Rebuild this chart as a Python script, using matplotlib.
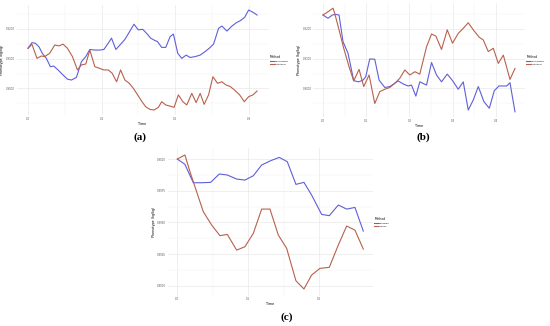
import numpy as np
import matplotlib
matplotlib.use("Agg")
import matplotlib.pyplot as plt

# panel (a)
a_time_mech = [0, 0.0055, 0.0100, 0.0150, 0.0195, 0.0250, 0.0305, 0.0350, 0.0409, 0.0477, 0.0536, 0.0591,
               0.0659, 0.0727, 0.0786, 0.0841, 0.0909, 0.0977, 0.1032, 0.1091, 0.1136, 0.1195, 0.1250, 0.1318,
               0.1386, 0.1441, 0.1500, 0.1559, 0.1614, 0.1668, 0.1727, 0.1759, 0.1818, 0.1873, 0.1932, 0.1977,
               0.2036, 0.2091, 0.2150, 0.2205, 0.2273, 0.2341, 0.2409, 0.2464, 0.2523, 0.2591, 0.2636, 0.2705,
               0.2773, 0.2832, 0.2886, 0.2945, 0.3000, 0.3068, 0.3114]
a_mech = [0.9135, 0.9154, 0.9152, 0.9140, 0.9118, 0.9101, 0.9073, 0.9075, 0.9062, 0.9045, 0.9031, 0.9028,
          0.9037, 0.9090, 0.9107, 0.9131, 0.9129, 0.9129, 0.9131, 0.9152, 0.9169, 0.9131, 0.9146, 0.9165,
          0.9193, 0.9216, 0.9197, 0.9199, 0.9185, 0.9169, 0.9161, 0.9158, 0.9138, 0.9138, 0.9174, 0.9183,
          0.9118, 0.9101, 0.9112, 0.9104, 0.9107, 0.9112, 0.9124, 0.9135, 0.9149, 0.9202, 0.9210, 0.9193,
          0.9210, 0.9221, 0.9228, 0.9239, 0.9264, 0.9255, 0.9247]
a_time_stat = [0, 0.0055, 0.0082, 0.0123, 0.0182, 0.0227, 0.0295, 0.0364, 0.0423, 0.0477, 0.0536, 0.0605,
               0.0673, 0.0727, 0.0786, 0.0841, 0.0909, 0.0977, 0.1032, 0.1091, 0.1145, 0.1205, 0.1259, 0.1318,
               0.1377, 0.1432, 0.1491, 0.1545, 0.1600, 0.1659, 0.1714, 0.1773, 0.1818, 0.1873, 0.1932, 0.1986,
               0.2045, 0.2105, 0.2159, 0.2227, 0.2286, 0.2341, 0.2395, 0.2455, 0.2514, 0.2577, 0.2636, 0.2695,
               0.2750, 0.2809, 0.2877, 0.2941, 0.3000, 0.3059, 0.3114]
a_stat = [0.9135, 0.9148, 0.9129, 0.9101, 0.9109, 0.9107, 0.9118, 0.9146, 0.9143, 0.9149, 0.9135, 0.9107,
          0.9062, 0.9079, 0.9082, 0.9129, 0.9073, 0.9067, 0.9062, 0.9062, 0.9051, 0.9022, 0.9062, 0.9028,
          0.9017, 0.9000, 0.8978, 0.8957, 0.8938, 0.8929, 0.8927, 0.8936, 0.8955, 0.8944, 0.8940, 0.8936,
          0.8978, 0.8955, 0.8944, 0.8983, 0.8952, 0.8983, 0.8946, 0.8978, 0.9039, 0.9017, 0.9022, 0.9011,
          0.9006, 0.8994, 0.8978, 0.8955, 0.8972, 0.8978, 0.8991]

# panel (b)
b_time_mech = [0, 0.0116, 0.0216, 0.0293, 0.0371, 0.0463, 0.0579, 0.0710, 0.0826, 0.0927, 0.0988, 0.1081,
               0.1197, 0.1297, 0.1429, 0.1544, 0.1660, 0.1737, 0.1853, 0.1969, 0.2046, 0.2147, 0.2239, 0.2394,
               0.2510, 0.2625, 0.2741, 0.2873, 0.2996, 0.3127, 0.3243, 0.3359, 0.3475, 0.3591, 0.3722, 0.3846,
               0.3961, 0.4069, 0.4170, 0.4247, 0.4324, 0.4440]
b_mech = [0.9247, 0.9236, 0.9247, 0.9249, 0.9247, 0.9157, 0.9118, 0.9026, 0.9022, 0.9028, 0.9039, 0.9099,
          0.9098, 0.9028, 0.9003, 0.9006, 0.9017, 0.9025, 0.9015, 0.9008, 0.9011, 0.8974, 0.9022, 0.9011,
          0.9087, 0.9045, 0.9022, 0.9048, 0.9026, 0.8997, 0.9022, 0.8927, 0.8961, 0.9006, 0.8955, 0.8933,
          0.8992, 0.9008, 0.9008, 0.9008, 0.9019, 0.8921]
b_time_stat = [0, 0.0116, 0.0232, 0.0270, 0.0371, 0.0479, 0.0602, 0.0710, 0.0834, 0.0942, 0.1066, 0.1197,
               0.1313, 0.1429, 0.1544, 0.1660, 0.1776, 0.1892, 0.2008, 0.2124, 0.2239, 0.2394, 0.2510, 0.2610,
               0.2741, 0.2873, 0.2996, 0.3127, 0.3243, 0.3359, 0.3475, 0.3614, 0.3707, 0.3822, 0.3938, 0.4054,
               0.4170, 0.4324, 0.4440]
b_stat = [0.9247, 0.9258, 0.9270, 0.9253, 0.9197, 0.9135, 0.9073, 0.9025, 0.9064, 0.9006, 0.9045, 0.8949,
          0.8989, 0.8997, 0.9003, 0.9017, 0.9034, 0.9062, 0.9045, 0.9056, 0.9048, 0.9140, 0.9183, 0.9176,
          0.9131, 0.9197, 0.9152, 0.9185, 0.9202, 0.9221, 0.9197, 0.9172, 0.9163, 0.9124, 0.9135, 0.9084,
          0.9112, 0.9030, 0.9067]

# panel (c)
c_time_bay = [0, 0.0108, 0.0226, 0.0344, 0.0471, 0.0593, 0.0706, 0.0838, 0.0955, 0.1073, 0.1191, 0.1318,
              0.1440, 0.1553, 0.1675, 0.1788, 0.1896, 0.2038, 0.2146, 0.2273, 0.2391, 0.2508, 0.2626]
c_bay = [0.90000, 0.89958, 0.89813, 0.89813, 0.89816, 0.89882, 0.89874, 0.89842, 0.89834, 0.89868, 0.89953,
         0.89987, 0.90013, 0.89979, 0.89800, 0.89816, 0.89716, 0.89563, 0.89553, 0.89637, 0.89605, 0.89618,
         0.89431]
c_time_greedy = [0, 0.0108, 0.0179, 0.0249, 0.0367, 0.0485, 0.0602, 0.0706, 0.0838, 0.0955, 0.1073, 0.1191,
                 0.1308, 0.1426, 0.1544, 0.1675, 0.1788, 0.1896, 0.2014, 0.2146, 0.2273, 0.2391, 0.2508, 0.2626]
c_greedy = [0.90000, 0.90032, 0.89900, 0.89782, 0.89584, 0.89479, 0.89395, 0.89405, 0.89281, 0.89308, 0.89413,
            0.89605, 0.89605, 0.89400, 0.89295, 0.89039, 0.88974, 0.89084, 0.89137, 0.89145, 0.89321, 0.89471,
            0.89439, 0.89289]

blue = "#5f5fd8"
red = "#b8614c"

W, H = 550, 326
fig = plt.figure(figsize=(W / 100, H / 100), dpi=100)


def box(left, top, right, bottom):
    return [left / W, 1 - bottom / H, (right - left) / W, (bottom - top) / H]


def panel(rect, series, xticks, yticks, yfmt, leg_x, tag, tag_xy):
    ax = fig.add_axes(rect)
    for t, v, col, name in series:
        ax.plot(t, v, color=col, lw=0.8, label=name)
    ax.set_xticks(xticks)
    ax.set_xticklabels(["%.1f" % x for x in xticks])
    ax.set_yticks(yticks)
    ax.set_yticklabels([yfmt % y for y in yticks])
    dx = (xticks[1] - xticks[0]) / 2
    dy = (yticks[1] - yticks[0]) / 2
    ax.set_xticks(np.array(xticks[:-1]) + dx, minor=True)
    ax.set_yticks(list(np.array(yticks) + dy) + [yticks[0] - dy], minor=True)
    ax.margins(0.05)
    ax.grid(True, which="major", color="#e6e6e6", lw=0.45)
    ax.grid(True, which="minor", color="#f0f0f0", lw=0.3)
    ax.set_axisbelow(True)
    for s in ax.spines.values():
        s.set_visible(False)
    ax.tick_params(which="both", length=0, labelsize=1.9, labelcolor="#555555", pad=1.2)
    ax.set_xlabel("Time", fontsize=2.4, labelpad=0.8)
    ax.set_ylabel("Phenotype (kg/kg)", fontsize=2.4, labelpad=1.0)
    leg = ax.legend(title="Method", loc="center left", bbox_to_anchor=(leg_x, 0.5), fontsize=1.7,
                    title_fontsize=2.2, frameon=False, handlelength=1.6, handletextpad=0.5,
                    labelspacing=0.5, borderaxespad=0.3)
    leg._legend_box.align = "left"
    fig.text(tag_xy[0] / W, 1 - tag_xy[1] / H, tag, fontsize=8, fontweight="bold",
             family="Liberation Serif", ha="center", va="center")
    return ax


panel(box(16.5, 5, 268.5, 115),
      [(a_time_mech, a_mech, blue, "Mechanistic"), (a_time_stat, a_stat, red, "Statistical")],
      [0.0, 0.1, 0.2, 0.3], [0.900, 0.910, 0.920], "%.4f", 1.0, "(a)", (140, 137))

panel(box(313.4, 3, 524.6, 117),
      [(b_time_mech, b_mech, blue, "Mechanistic"), (b_time_stat, b_stat, red, "Statistical")],
      [0.0, 0.1, 0.2, 0.3, 0.4], [0.900, 0.910, 0.920], "%.4f", 1.0, "(b)", (423, 137))

panel(box(168, 148.3, 372.6, 295.7),
      [(c_time_bay, c_bay, blue, "Bayesian"), (c_time_greedy, c_greedy, red, "Greedy")],
      [0.0, 0.1, 0.2], [0.8900, 0.8925, 0.8950, 0.8975, 0.9000], "%.4f", 1.0, "(c)", (287, 317))

fig.savefig("out.png", dpi=100)
